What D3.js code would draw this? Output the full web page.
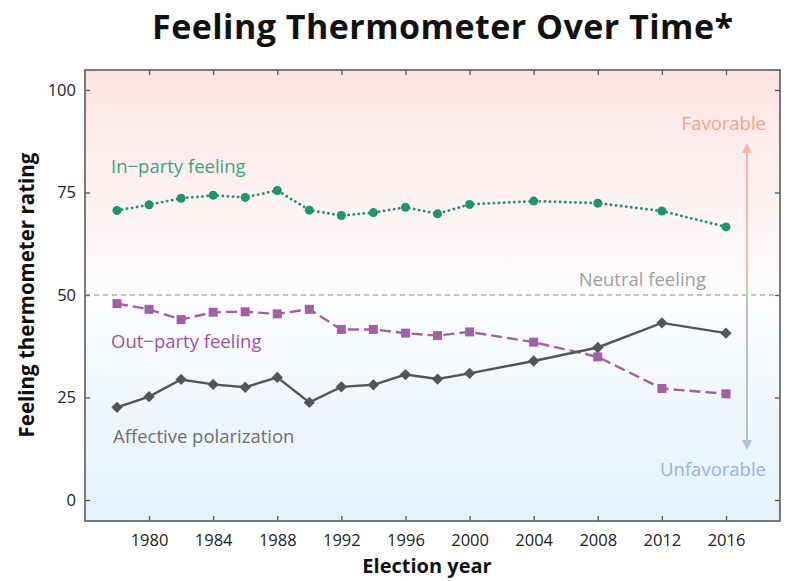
<!DOCTYPE html>
<html lang="en">
  <head>
    <meta charset="utf-8">
    <title>Feeling Thermometer Over Time</title>
    <script src="https://cdn.jsdelivr.net/npm/d3@7"></script>
    <style>
      body { margin: 0; background: #fff; }
      text { font-family: "Open Sans", "Noto Sans", sans-serif; }
    </style>
  </head>
  <body>
    <script>

    var w = 787;
    var h = 581;

    // data
    var years = [1978, 1980, 1982, 1984, 1986, 1988, 1990, 1992, 1994, 1996, 1998, 2000, 2004, 2008, 2012, 2016];
    var inParty = [70.6, 72.0, 73.6, 74.3, 73.8, 75.5, 70.7, 69.4, 70.1, 71.4, 69.8, 72.1, 72.9, 72.4, 70.5, 66.6];
    var outParty = [47.9, 46.5, 44.0, 45.8, 45.9, 45.4, 46.5, 41.6, 41.6, 40.7, 40.1, 41.0, 38.5, 34.9, 27.2, 25.9];
    var affective = [22.6, 25.2, 29.4, 28.2, 27.5, 29.9, 23.8, 27.6, 28.1, 30.6, 29.5, 30.9, 33.9, 37.2, 43.2, 40.7];
    var xTicks = [1980, 1984, 1988, 1992, 1996, 2000, 2004, 2008, 2012, 2016];
    var yTicks = [0, 25, 50, 75, 100];

    var box = { left: 85, top: 70, right: 780, bottom: 521 };

    var x = d3.scaleLinear().domain([1978, 2016]).range([117, 726]);
    var y = d3.scaleLinear().domain([0, 100]).range([500, 90]);

    var svg = d3.select("body").append("svg")
                .attr("width", w)
                .attr("height", h);

    var defs = svg.append("defs");
    var grad = defs.append("linearGradient")
                   .attr("id", "bg")
                   .attr("x1", 0).attr("y1", 0).attr("x2", 0).attr("y2", 1);
    grad.append("stop").attr("offset", "0%").attr("stop-color", "#fce3e3");
    grad.append("stop").attr("offset", "42%").attr("stop-color", "#fef9f9");
    grad.append("stop").attr("offset", "52%").attr("stop-color", "#fbfdff");
    grad.append("stop").attr("offset", "100%").attr("stop-color", "#e4f1fa");

    svg.append("rect")
       .attr("x", box.left).attr("y", box.top)
       .attr("width", box.right - box.left)
       .attr("height", box.bottom - box.top)
       .attr("fill", "url(#bg)");

    // title
    svg.append("text")
       .attr("x", 152).attr("y", 39)
       .attr("font-size", "34px")
       .attr("font-weight", 700)
       .attr("fill", "#111")
       .attr("textLength", 581)
       .attr("lengthAdjust", "spacing")
       .text("Feeling Thermometer Over Time*");

    // axes (ticks pointing inward)
    var tickCol = "#555";
    var xAxis = d3.axisBottom(x).tickValues(xTicks).tickFormat(d3.format("d"))
                  .tickSizeInner(-5).tickSizeOuter(0).tickPadding(13);
    var gx = svg.append("g")
                .attr("transform", "translate(0," + box.bottom + ")")
                .call(xAxis);
    gx.select(".domain").remove();
    gx.selectAll("line").attr("stroke", tickCol).attr("stroke-width", 1.3);
    gx.selectAll("text").attr("font-size", "16.5px").attr("fill", "#222");

    var xTop = d3.axisTop(x).tickValues(xTicks).tickFormat("").tickSizeInner(-5).tickSizeOuter(0);
    var gxt = svg.append("g").attr("transform", "translate(0," + box.top + ")").call(xTop);
    gxt.select(".domain").remove();
    gxt.selectAll("line").attr("stroke", tickCol).attr("stroke-width", 1.3);

    var yAxis = d3.axisLeft(y).tickValues(yTicks)
                  .tickSizeInner(-5).tickSizeOuter(0).tickPadding(9);
    var gy = svg.append("g").attr("transform", "translate(" + box.left + ",0)").call(yAxis);
    gy.select(".domain").remove();
    gy.selectAll("line").attr("stroke", tickCol).attr("stroke-width", 1.3);
    gy.selectAll("text").attr("font-size", "16.5px").attr("fill", "#222");

    var yRight = d3.axisRight(y).tickValues(yTicks).tickFormat("").tickSizeInner(-5).tickSizeOuter(0);
    var gyr = svg.append("g").attr("transform", "translate(" + box.right + ",0)").call(yRight);
    gyr.select(".domain").remove();
    gyr.selectAll("line").attr("stroke", tickCol).attr("stroke-width", 1.3);

    // frame
    svg.append("rect")
       .attr("x", box.left).attr("y", box.top)
       .attr("width", box.right - box.left)
       .attr("height", box.bottom - box.top)
       .attr("fill", "none")
       .attr("stroke", "#5a5a5a")
       .attr("stroke-width", 1.6);

    // axis titles
    svg.append("text")
       .attr("transform", "translate(34," + 295 + ") rotate(-90)")
       .attr("text-anchor", "middle")
       .attr("font-size", "20.5px")
       .attr("font-weight", 700)
       .attr("fill", "#111")
       .text("Feeling thermometer rating");

    svg.append("text")
       .attr("x", 427).attr("y", 573)
       .attr("text-anchor", "middle")
       .attr("font-size", "20px")
       .attr("font-weight", 700)
       .attr("fill", "#111")
       .text("Election year");

    // neutral line
    svg.append("line")
       .attr("x1", box.left).attr("x2", box.right)
       .attr("y1", y(50)).attr("y2", y(50))
       .attr("stroke", "#888")
       .attr("stroke-width", 1)
       .attr("stroke-dasharray", "5,4");

    svg.append("text")
       .attr("x", 706).attr("y", 286)
       .attr("text-anchor", "end")
       .attr("font-size", "18.5px")
       .attr("fill", "#a0a0a0")
       .text("Neutral feeling");

    // favorable / unfavorable arrows
    var ax = 747;
    defs.append("marker").attr("id", "headUp")
        .attr("viewBox", "0 0 10 10").attr("refX", 5).attr("refY", 5)
        .attr("markerWidth", 10).attr("markerHeight", 10)
        .attr("markerUnits", "userSpaceOnUse").attr("orient", "auto")
        .append("path").attr("d", "M0,0 L10,5 L0,10 Z").attr("fill", "#f6b7a6");
    defs.append("marker").attr("id", "headDown")
        .attr("viewBox", "0 0 10 10").attr("refX", 5).attr("refY", 5)
        .attr("markerWidth", 10).attr("markerHeight", 10)
        .attr("markerUnits", "userSpaceOnUse").attr("orient", "auto")
        .append("path").attr("d", "M0,0 L10,5 L0,10 Z").attr("fill", "#aec2de");

    svg.append("line")
       .attr("x1", ax).attr("x2", ax)
       .attr("y1", y(50)).attr("y2", 148)
       .attr("stroke", "#f6b7a6").attr("stroke-width", 2)
       .attr("marker-end", "url(#headUp)");
    svg.append("line")
       .attr("x1", ax).attr("x2", ax)
       .attr("y1", y(50)).attr("y2", 445)
       .attr("stroke", "#aec2de").attr("stroke-width", 2)
       .attr("marker-end", "url(#headDown)");

    svg.append("text")
       .attr("x", 766).attr("y", 130)
       .attr("text-anchor", "end")
       .attr("font-size", "18.5px")
       .attr("fill", "#f3a38c")
       .text("Favorable");
    svg.append("text")
       .attr("x", 766).attr("y", 476)
       .attr("text-anchor", "end")
       .attr("font-size", "18.5px")
       .attr("fill", "#97b2d6")
       .text("Unfavorable");

    // series
    var line = d3.line()
                 .x(function(d) { return x(d[0]); })
                 .y(function(d) { return y(d[1]); });

    function pairs(vals) {
      return years.map(function(yr, i) { return [yr, vals[i]]; });
    }

    var green = "#1f9466";
    var purple = "#a45fa6";
    var gray = "#555555";

    svg.append("path")
       .datum(pairs(inParty))
       .attr("d", line)
       .attr("fill", "none")
       .attr("stroke", green)
       .attr("stroke-width", 2.8)
       .attr("stroke-linecap", "round")
       .attr("stroke-dasharray", "0.1,5");

    svg.append("path")
       .datum(pairs(outParty))
       .attr("d", line)
       .attr("fill", "none")
       .attr("stroke", purple)
       .attr("stroke-width", 2.4)
       .attr("stroke-dasharray", "11,5");

    svg.append("path")
       .datum(pairs(affective))
       .attr("d", line)
       .attr("fill", "none")
       .attr("stroke", gray)
       .attr("stroke-width", 2.4);

    svg.selectAll(".dotIn")
       .data(pairs(inParty))
       .enter().append("circle")
       .attr("cx", function(d) { return x(d[0]); })
       .attr("cy", function(d) { return y(d[1]); })
       .attr("r", 4.5)
       .attr("fill", green);

    svg.selectAll(".sqOut")
       .data(pairs(outParty))
       .enter().append("rect")
       .attr("x", function(d) { return x(d[0]) - 4.5; })
       .attr("y", function(d) { return y(d[1]) - 4.5; })
       .attr("width", 9).attr("height", 9)
       .attr("fill", purple);

    svg.selectAll(".diaAff")
       .data(pairs(affective))
       .enter().append("path")
       .attr("transform", function(d) { return "translate(" + x(d[0]) + "," + y(d[1]) + ") rotate(45)"; })
       .attr("d", "M-4,-4 L4,-4 L4,4 L-4,4 Z")
       .attr("fill", gray);

    // series labels
    svg.append("text")
       .attr("x", 111).attr("y", 173)
       .attr("font-size", "18.5px")
       .attr("fill", "#3da47a")
       .text("In\u2212party feeling");
    svg.append("text")
       .attr("x", 111).attr("y", 348)
       .attr("font-size", "18.5px")
       .attr("fill", "#a050a3")
       .text("Out\u2212party feeling");
    svg.append("text")
       .attr("x", 113).attr("y", 443)
       .attr("font-size", "18.5px")
       .attr("fill", "#6f6f6f")
       .text("Affective polarization");

    </script>
  </body>
</html>
